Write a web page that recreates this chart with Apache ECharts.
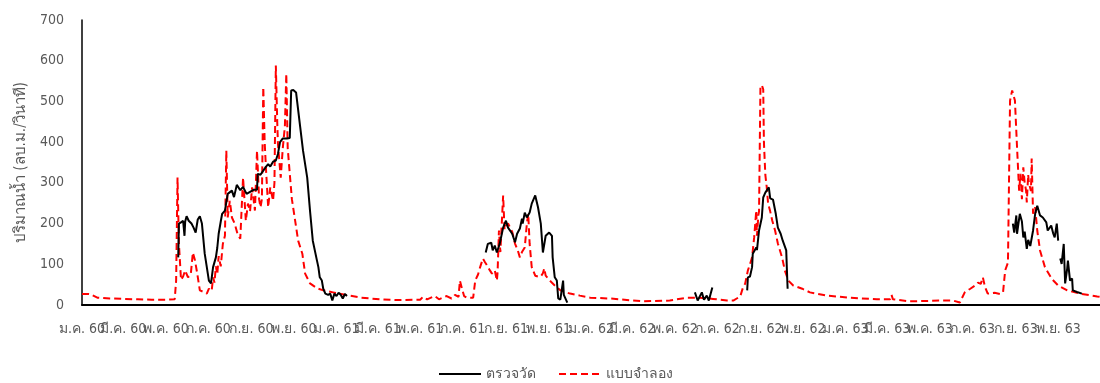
<!DOCTYPE html>
<html>
<head>
<meta charset="utf-8">
<script src="https://cdn.jsdelivr.net/npm/echarts@6/dist/echarts.min.js"></script>
<style>
html,body{margin:0;padding:0;background:#fff;}
#chart{width:1100px;height:383px;}
</style>
</head>
<body>
<div id="chart"></div>
<script>
// X categories: daily dates 2017-01-01 .. 2020-12-31 (day index 0..1460)
var startDate = [2017, 0, 1];
var dayCount = 1461;
// Tick labels (every 2 months, Buddhist-era years)
var xTickLabels = [
  'ม.ค. 60','มี.ค. 60','พ.ค. 60','ก.ค. 60','ก.ย. 60','พ.ย. 60',
  'ม.ค. 61','มี.ค. 61','พ.ค. 61','ก.ค. 61','ก.ย. 61','พ.ย. 61',
  'ม.ค. 62','มี.ค. 62','พ.ค. 62','ก.ค. 62','ก.ย. 62','พ.ย. 62',
  'ม.ค. 63','มี.ค. 63','พ.ค. 63','ก.ค. 63','ก.ย. 63','พ.ย. 63'
];
var seriesNames = ['ตรวจวัด', 'แบบจำลอง'];
var yAxisTitle = 'ปริมาณน้ำ (ลบ.ม./วินาที)';

// Simulated discharge: [day index, m3/s]
var simulated = [
[0,27],[10,27],[14,25],[22,18],[40,16],[60,15],[80,14],[100,13],[120,13],[133,14],[135,60],[137,313],[139,150],[142,62],[145,70],[148,85],[152,68],[156,75],[159,129],[162,110],[165,80],[169,36],[176,31],[179,28],[182,40],[184,43],[186,35],[188,68],[190,55],[192,95],[194,75],[196,120],[199,95],[202,150],[205,170],[207,379],[209,215],[212,256],[215,215],[219,200],[223,175],[227,163],[231,313],[235,207],[238,249],[241,230],[244,289],[248,232],[251,379],[254,260],[256,240],[258,260],[260,535],[262,400],[264,330],[267,240],[270,289],[274,256],[276,300],[278,588],[280,450],[281,396],[285,313],[288,386],[291,440],[293,568],[295,386],[298,322],[301,260],[305,215],[310,158],[316,126],[320,77],[327,53],[337,41],[346,36],[360,31],[377,25],[400,18],[427,14],[456,12],[485,13],[489,20],[495,14],[506,22],[512,14],[523,22],[530,16],[535,25],[540,20],[542,60],[545,40],[548,22],[552,18],[561,18],[564,60],[568,75],[571,93],[575,114],[578,105],[581,97],[585,85],[588,77],[592,85],[595,60],[596,80],[598,183],[600,130],[602,200],[604,269],[606,185],[608,195],[611,200],[614,190],[617,180],[621,151],[625,134],[628,117],[631,130],[635,141],[638,200],[640,224],[642,150],[645,93],[650,72],[654,70],[658,70],[661,78],[663,90],[665,72],[671,60],[678,48],[686,36],[700,28],[714,23],[729,18],[757,16],[805,9],[843,11],[868,18],[886,18],[905,15],[925,11],[934,11],[944,21],[948,43],[951,52],[955,85],[958,100],[961,117],[964,166],[967,232],[968,170],[970,220],[971,230],[973,535],[975,540],[977,530],[978,400],[980,320],[982,290],[984,249],[987,230],[990,207],[994,183],[998,151],[1004,117],[1008,85],[1013,60],[1020,48],[1033,40],[1044,31],[1068,23],[1101,18],[1140,14],[1159,14],[1161,25],[1163,14],[1187,9],[1235,11],[1249,11],[1259,6],[1266,31],[1274,40],[1281,48],[1285,55],[1289,52],[1292,68],[1295,45],[1299,28],[1309,30],[1317,27],[1321,32],[1324,85],[1328,104],[1331,502],[1334,527],[1336,515],[1338,502],[1341,388],[1344,281],[1346,322],[1348,260],[1350,338],[1352,300],[1354,281],[1355,252],[1357,320],[1358,300],[1361,280],[1362,360],[1364,224],[1367,240],[1370,183],[1374,134],[1381,93],[1391,64],[1400,48],[1413,36],[1431,28],[1456,21],[1460,20]
];

// Observed discharge: [day index, m3/s]; null marks missing records
var observed = [
[138,117],[139,200],[142,203],[145,207],[147,170],[148,205],[150,218],[153,207],[157,200],[160,190],[163,178],[166,210],[169,218],[172,200],[176,126],[179,93],[182,60],[185,53],[188,93],[192,117],[194,140],[196,175],[199,205],[201,224],[205,232],[209,273],[215,281],[218,265],[222,295],[227,282],[231,290],[236,273],[241,278],[246,283],[251,283],[252,322],[256,320],[260,330],[264,340],[267,346],[270,340],[274,352],[278,355],[281,371],[284,400],[288,409],[294,409],[298,410],[300,527],[303,528],[307,522],[313,436],[317,379],[323,313],[327,232],[331,158],[337,109],[339,93],[341,68],[344,60],[346,40],[349,28],[353,25],[356,28],[359,11],[362,28],[365,22],[368,30],[371,25],[374,16],[377,27],[380,22],
[381,null],
[579,129],[582,150],[587,153],[589,134],[592,146],[595,129],[599,150],[604,190],[608,207],[611,190],[617,175],[621,154],[624,175],[628,188],[631,212],[632,200],[635,227],[638,215],[642,227],[645,249],[650,269],[654,240],[658,200],[661,129],[663,132],[665,170],[670,178],[674,170],[675,117],[678,68],[681,60],[683,16],[686,13],[690,60],[691,25],[696,6],
[697,null],
[879,31],[883,11],[889,31],[892,13],[896,23],[899,11],[904,43],
[905,null],
[954,36],[955,68],[958,70],[961,93],[962,126],[967,141],[968,135],[971,183],[975,215],[977,264],[980,276],[982,276],[985,289],[987,262],[991,259],[995,224],[998,190],[1002,175],[1005,158],[1010,134],[1011,85],[1012,40],
[1013,null],
[1335,200],[1337,178],[1340,220],[1341,175],[1345,224],[1348,205],[1350,166],[1352,180],[1355,138],[1357,160],[1360,145],[1364,183],[1367,224],[1370,244],[1374,220],[1378,215],[1383,203],[1385,183],[1390,195],[1393,175],[1395,166],[1398,200],[1400,158],
[1401,null],
[1403,114],[1405,101],[1408,150],[1410,53],[1413,90],[1414,109],[1417,60],[1420,65],[1421,36],[1427,32],[1434,28]
];

// Build category list of dates; labels split into two alternating groups
var categories = [];
var labelAt = [{}, {}];
var li = 0;
for (var i = 0; i < dayCount; i++) {
  var dt = new Date(startDate[0], startDate[1], startDate[2] + i);
  var key = dt.getFullYear() + '-' + (dt.getMonth() + 1) + '-' + dt.getDate();
  categories.push(key);
  if (dt.getDate() === 1 && dt.getMonth() % 2 === 0) {
    labelAt[li % 2][key] = xTickLabels[li];
    li++;
  }
}

var chart = echarts.init(document.getElementById('chart'), null, {renderer: 'canvas'});
var gray = '#595959';
var font = "'Liberation Sans Narrow','DejaVu Sans Condensed','Liberation Sans',sans-serif";

function makeXAxis(group, showLine) {
  var map = labelAt[group];
  return {
    type: 'category',
    position: 'bottom',
    offset: 0,
    data: categories,
    boundaryGap: false,
    axisLine: {show: showLine, lineStyle: {color: '#000', width: 2}},
    axisTick: {show: false},
    splitLine: {show: false},
    axisLabel: {
      interval: function (idx, val) { return map[val] !== undefined; },
      formatter: function (val) { return map[val] || ''; },
      color: gray,
      fontSize: 14,
      fontFamily: font,
      margin: 17,
      hideOverlap: false,
      showMinLabel: true,
      showMaxLabel: true
    }
  };
}

chart.setOption({
  animation: false,
  backgroundColor: '#fff',
  grid: {left: 82, right: 0, top: 20, bottom: 78, containLabel: false},
  legend: {
    data: seriesNames,
    left: 433,
    top: 362,
    itemWidth: 42,
    itemHeight: 14,
    itemGap: 22,
    itemStyle: {color: 'rgba(0,0,0,0)', borderWidth: 0, opacity: 0},
    textStyle: {color: gray, fontSize: 14, fontFamily: font}
  },
  xAxis: [makeXAxis(0, true), makeXAxis(1, false)],
  yAxis: {
    type: 'value',
    min: 0,
    max: 700,
    interval: 100,
    name: yAxisTitle,
    nameLocation: 'middle',
    nameRotate: 90,
    nameGap: 43,
    nameTextStyle: {color: gray, fontSize: 15, fontFamily: font},
    axisLine: {show: true, lineStyle: {color: '#000', width: 1.5}},
    axisTick: {show: false},
    splitLine: {show: false},
    axisLabel: {color: gray, fontSize: 14, fontFamily: font, margin: 18}
  },
  series: [
    {
      name: seriesNames[0],
      type: 'line',
      xAxisIndex: 0,
      data: observed,
      showSymbol: false,
      symbol: 'none',
      connectNulls: false,
      lineStyle: {color: '#000', width: 2},
      itemStyle: {color: '#000'},
      z: 3
    },
    {
      name: seriesNames[1],
      type: 'line',
      xAxisIndex: 0,
      data: simulated,
      showSymbol: false,
      symbol: 'none',
      lineStyle: {color: '#ff0000', width: 2, type: [7, 4]},
      itemStyle: {color: '#ff0000'},
      z: 2
    }
  ]
});
</script>
</body>
</html>
